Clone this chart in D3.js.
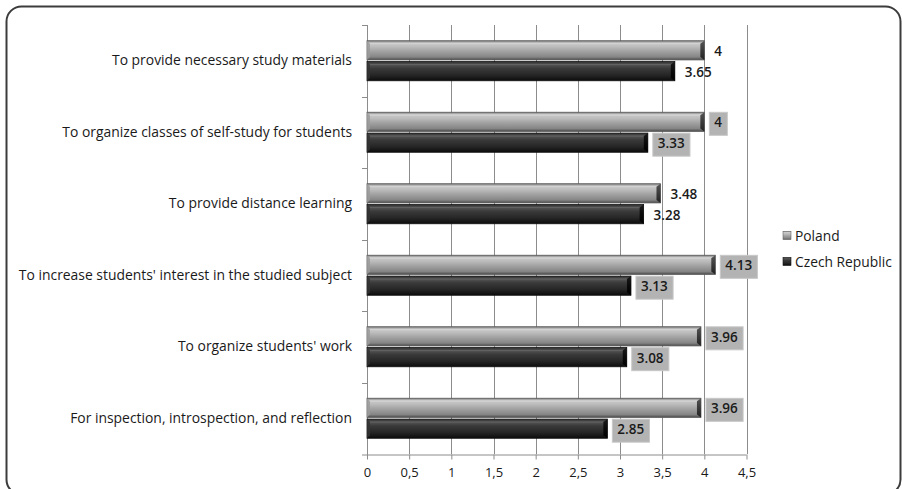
<!DOCTYPE html>
<html><head><meta charset="utf-8">
<script src="https://cdn.jsdelivr.net/npm/d3@7"></script>
<style>
html,body{margin:0;padding:0;background:#fff;}
svg{display:block;font-family:"Open Sans",Lato,sans-serif;}
</style></head>
<body><svg id="chart" width="902" height="489"></svg>
<script>
const categories = [
  "To provide necessary study materials",
  "To organize classes of self-study for students",
  "To provide distance learning",
  "To increase students' interest in the studied subject",
  "To organize students' work",
  "For inspection, introspection, and reflection"
];
const seriesNames = ["Poland", "Czech Republic"];
const poland = [4, 4, 3.48, 4.13, 3.96, 3.96];
const czech = [3.65, 3.33, 3.28, 3.13, 3.08, 2.85];
const polandLabels = ["4", "4", "3.48", "4.13", "3.96", "3.96"];
const czechLabels = ["3.65", "3.33", "3.28", "3.13", "3.08", "2.85"];
const labelBoxed = [false, true, false, true, true, true];
const xTicks = [0, 0.5, 1, 1.5, 2, 2.5, 3, 3.5, 4, 4.5];
const xTickLabels = ["0", "0,5", "1", "1,5", "2", "2,5", "3", "3,5", "4", "4,5"];

const FONT = "'Open Sans', Lato, sans-serif";
const svg = d3.select("#chart");
const defs = svg.append("defs");

function grad(id, stops) {
  const g = defs.append("linearGradient").attr("id", id)
    .attr("x1", 0).attr("y1", 0).attr("x2", 0).attr("y2", 1);
  stops.forEach(s => g.append("stop").attr("offset", s[0]).attr("stop-color", s[1]));
}
grad("gPoland", [[0, "#7a7a7a"], [0.12, "#c9c9c9"], [0.3, "#bdbdbd"], [0.55, "#a2a2a2"], [0.85, "#858585"], [1, "#4a4a4a"]]);
grad("gCzech", [[0, "#2c2c2c"], [0.15, "#555555"], [0.35, "#3a3a3a"], [0.7, "#262626"], [1, "#0c0c0c"]]);
grad("gCapP", [[0, "#555"], [0.5, "#3a3a3a"], [1, "#222"]]);
grad("gCapC", [[0, "#1a1a1a"], [0.5, "#0a0a0a"], [1, "#000"]]);

// frame
svg.append("rect").attr("x", 6.5).attr("y", 6.5).attr("width", 894).attr("height", 488)
  .attr("rx", 15).attr("fill", "#fff").attr("stroke", "#3c3c3c").attr("stroke-width", 2);

const x = d3.scaleLinear().domain([0, 4.5]).range([367, 746.5]);
const y = d3.scaleBand().domain(categories).range([25, 454]);
const sub = d3.scaleBand().domain(seriesNames)
  .range([y.bandwidth() * 0.22, y.bandwidth() * 0.78]).paddingInner(0.08);

// gridlines
svg.append("g").selectAll("line").data(xTicks.slice(1)).join("line")
  .attr("x1", d => Math.round(x(d)) + 0.5).attr("x2", d => Math.round(x(d)) + 0.5)
  .attr("y1", 25).attr("y2", 454).attr("stroke", "#8c8c8c").attr("stroke-width", 1);

// x axis
const xAxis = svg.append("g").attr("transform", "translate(0,454.5)")
  .call(d3.axisBottom(x).tickValues(xTicks).tickFormat((d, i) => xTickLabels[i]).tickSize(5).tickPadding(8));
xAxis.select(".domain").attr("stroke", "#8c8c8c").attr("d", "M362,0.5H746.5");
xAxis.selectAll(".tick line").attr("stroke", "#8c8c8c");
xAxis.selectAll("text").attr("font-size", 13).attr("fill", "#1a1a1a").attr("font-family", FONT);

// y axis
svg.append("line").attr("x1", 367.5).attr("x2", 367.5).attr("y1", 25).attr("y2", 455)
  .attr("stroke", "#8c8c8c");
const bounds = categories.map(c => y(c));
svg.append("g").selectAll("line").data(bounds).join("line")
  .attr("x1", 362).attr("x2", 367).attr("y1", d => Math.round(d) + 0.5).attr("y2", d => Math.round(d) + 0.5)
  .attr("stroke", "#8c8c8c");

// category labels
svg.append("g").selectAll("text").data(categories).join("text")
  .attr("x", 352).attr("y", d => y(d) + y.bandwidth() / 2 + 1)
  .attr("text-anchor", "end").attr("dominant-baseline", "middle")
  .attr("font-size", 13.9).attr("fill", "#1a1a1a").text(d => d);

// bars
const rows = [];
categories.forEach((c, i) => {
  rows.push({ c, s: "Poland", v: poland[i], lab: polandLabels[i], boxed: labelBoxed[i] });
  rows.push({ c, s: "Czech Republic", v: czech[i], lab: czechLabels[i], boxed: labelBoxed[i] });
});
const barG = svg.append("g");
rows.forEach(r => {
  const y0 = y(r.c) + sub(r.s), h = sub.bandwidth();
  const x0 = x(0), x1 = x(r.v);
  const isP = r.s === "Poland";
  barG.append("rect").attr("x", x0).attr("y", y0).attr("width", x1 - x0).attr("height", h)
    .attr("fill", isP ? "url(#gPoland)" : "url(#gCzech)")
    .attr("stroke", isP ? "#5a5a5a" : "#111").attr("stroke-width", 0.8);
  barG.append("line").attr("x1", x0 + 3).attr("x2", x1 - 4).attr("y1", y0 + 3).attr("y2", y0 + 3)
    .attr("stroke", isP ? "#dcdcdc" : "#6a6a6a").attr("stroke-width", 1).attr("opacity", 0.7);
  barG.append("path")
    .attr("d", `M${x1 - 4},${y0 + 3} L${x1},${y0} L${x1},${y0 + h} L${x1 - 4},${y0 + h - 3} Z`)
    .attr("fill", isP ? "url(#gCapP)" : "url(#gCapC)");
  barG.append("path")
    .attr("d", `M${x0},${y0} L${x0 + 3},${y0 + 3} L${x0 + 3},${y0 + h - 3} L${x0},${y0 + h} Z`)
    .attr("fill", isP ? "#9a9a9a" : "#333").attr("opacity", 0.8);

  const cy = y0 + h / 2 + 2;
  const t = barG.append("text").attr("x", x1 + 10).attr("y", cy)
    .attr("dominant-baseline", "middle").attr("font-size", 13.5).attr("font-weight", 600)
    .attr("fill", "#1a1a1a").text(r.lab);
  if (r.boxed) {
    const bb = t.node().getBBox();
    barG.insert("rect", () => t.node())
      .attr("x", bb.x - 5).attr("y", cy - 11.5).attr("width", bb.width + 10).attr("height", 23)
      .attr("fill", "#b3b3b3").attr("stroke", "#c8c8c8").attr("stroke-width", 1);
  }
});

// legend
const leg = svg.append("g");
seriesNames.forEach((s, i) => {
  const ly = 236 + i * 26;
  leg.append("rect").attr("x", 783).attr("y", ly - 4.5).attr("width", 8).attr("height", 8)
    .attr("fill", i === 0 ? "url(#gPoland)" : "url(#gCzech)")
    .attr("stroke", i === 0 ? "#666" : "#111").attr("stroke-width", 0.6);
  leg.append("text").attr("x", 795).attr("y", ly + 1).attr("dominant-baseline", "middle")
    .attr("font-size", 13.8).attr("fill", "#1a1a1a").text(s);
});
</script>
</body></html>
